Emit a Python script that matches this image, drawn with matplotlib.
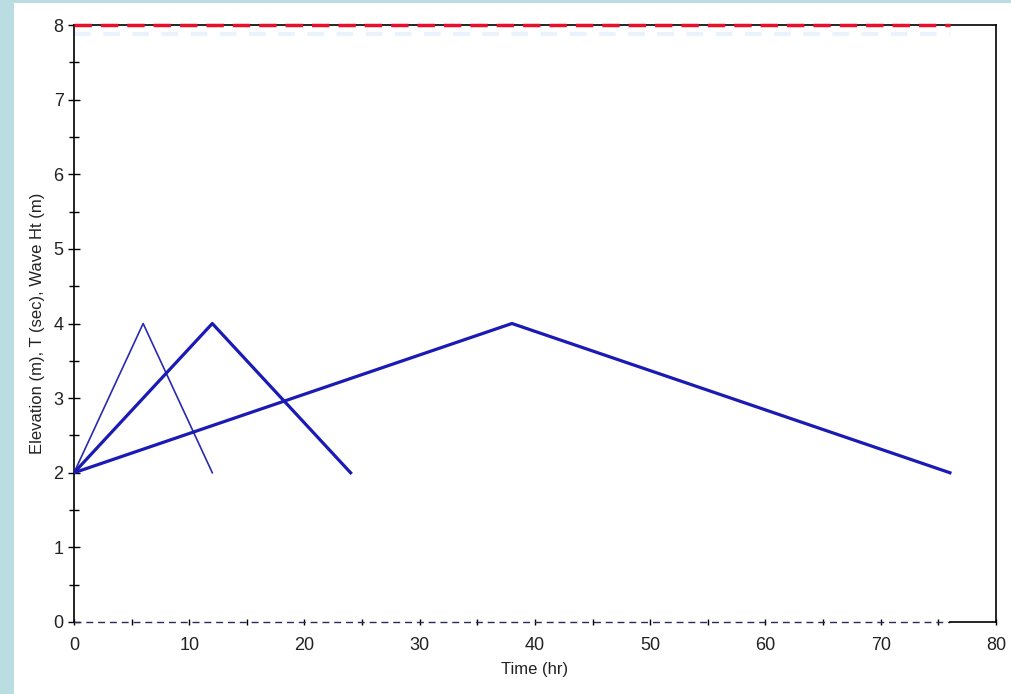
import matplotlib
matplotlib.use("Agg")
import matplotlib.pyplot as plt
from matplotlib.patches import Rectangle

# storm hydrographs: time (hr) vs elevation (m)
t_short = [0, 6, 12]
h_short = [2, 4, 2]

t_mid = [0, 12, 24]
h_mid = [2, 4, 2]

t_long = [0, 38, 76]
h_long = [2, 4, 2]

t_ref = [0, 76]
top_level = [8, 8]
ghost_level = [7.88, 7.88]
bottom_level = [0, 0]

x_ticks = [0, 10, 20, 30, 40, 50, 60, 70, 80]
y_ticks = [0, 1, 2, 3, 4, 5, 6, 7, 8]

plt.rcParams["font.family"] = ["Liberation Sans", "DejaVu Sans"]

fig = plt.figure(figsize=(10.12, 6.94), dpi=100)
fig.patch.set_facecolor("#b9dde0")
fig.patches.append(Rectangle((14 / 1012, 0), 1, 1 - 3 / 694, transform=fig.transFigure,
                             facecolor="white", edgecolor="none", zorder=-10))

ax = fig.add_axes([74 / 1012, 72 / 694, 922 / 1012, 597 / 694])
ax.set_facecolor("white")

ax.plot(t_ref, ghost_level, color="#eaf3fb", lw=3, ls=(0, (4, 3)), zorder=2)
ax.plot(t_ref, top_level, color="#e8102a", lw=2.5, ls=(0, (5, 2.6)), zorder=4, clip_on=False)
ax.plot(t_ref, bottom_level, color="#2a2a5a", lw=1, ls=(0, (5, 3.5)), zorder=4, clip_on=False)
ax.plot([76, 80], [0, 0], color="black", lw=1.2, zorder=4, clip_on=False)

ax.plot(t_short, h_short, color="#2a2ab0", lw=1.2, zorder=3)
ax.plot(t_mid, h_mid, color="#1a1ab4", lw=2.3, zorder=3)
ax.plot(t_long, h_long, color="#1a1ab4", lw=2.3, zorder=3)

ax.set_xlim(0, 80)
ax.set_ylim(0, 8)
ax.set_xticks(x_ticks)
ax.set_yticks(y_ticks)
ax.set_xticks([x + 5 for x in x_ticks[:-1]], minor=True)
ax.set_yticks([y + 0.5 for y in y_ticks[:-1]], minor=True)

for side in ["left", "right", "top"]:
    ax.spines[side].set_color("black")
    ax.spines[side].set_linewidth(1.2)
ax.spines["bottom"].set_visible(False)

ax.tick_params(axis="both", which="both", direction="inout", color="black",
               labelsize=13, labelcolor="#222222")
ax.tick_params(axis="y", which="major", length=9, width=1, pad=3)
ax.tick_params(axis="y", which="minor", length=7, width=1)
ax.tick_params(axis="x", which="major", length=5, width=1, pad=8)
ax.tick_params(axis="x", which="minor", length=5, width=1)

ax.set_xlabel("Time (hr)", fontsize=12, color="#222222", labelpad=6)
ax.set_ylabel("Elevation (m), T (sec), Wave Ht (m)", fontsize=12, color="#222222", labelpad=6)

fig.savefig("out.png", dpi=100, facecolor=fig.get_facecolor())
